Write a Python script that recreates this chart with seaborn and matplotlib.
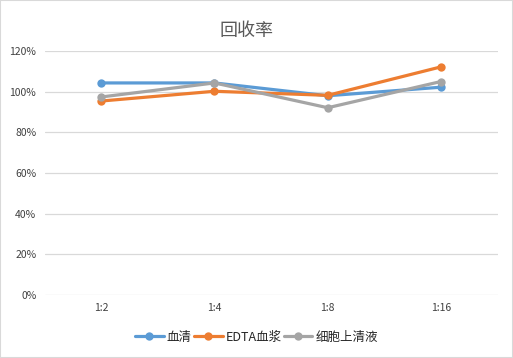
import pandas as pd
import matplotlib
matplotlib.use("Agg")
import matplotlib.pyplot as plt
from matplotlib.patches import Rectangle
from matplotlib.ticker import PercentFormatter
import seaborn as sns

dilutions = ["1:2", "1:4", "1:8", "1:16"]
serum = [1.043, 1.043, 0.98, 1.022]
edta_plasma = [0.954, 1.002, 0.982, 1.122]
supernatant = [0.974, 1.043, 0.921, 1.05]
series_names = ["血清", "EDTA血浆", "细胞上清液"]
colors = ["#5B9BD5", "#ED7D31", "#A5A5A5"]

df = pd.DataFrame({
    "dilution": dilutions * 3,
    "value": serum + edta_plasma + supernatant,
    "series": [s for s in series_names for _ in dilutions],
})

sns.set_style("white")
plt.rcParams["font.family"] = ["Noto Sans CJK SC", "DejaVu Sans"]

fig = plt.figure(figsize=(5.13, 3.58), dpi=100)
ax = fig.add_axes([0.087, 0.176, 0.883, 0.6815])

sns.lineplot(data=df, x="dilution", y="value", hue="series", hue_order=series_names,
             palette=colors, marker="o", markersize=6, markeredgewidth=0,
             linewidth=2.3, sort=False, ax=ax)

ax.set_xlim(-0.5, 3.5)
ax.set_ylim(0, 1.2)
ax.set_yticks([0, 0.2, 0.4, 0.6, 0.8, 1.0, 1.2])
ax.yaxis.set_major_formatter(PercentFormatter(1.0, decimals=0))
ax.grid(axis="y", color="#D9D9D9", linewidth=0.9)
ax.set_axisbelow(True)
for s in ax.spines.values():
    s.set_visible(False)
ax.tick_params(axis="both", length=0, labelsize=7.5, labelcolor="#404040", pad=6)
ax.set_xlabel("")
ax.set_ylabel("")

fig.text(0.481, 0.913, "回收率", ha="center", va="center", fontsize=13, color="#595959")

ax.legend_.remove()
handles, labels = ax.get_legend_handles_labels()
fig.legend(handles, labels, loc="center", bbox_to_anchor=(0.5, 0.058), ncol=3,
           frameon=False, fontsize=9, handlelength=2.3, columnspacing=0.15,
           handletextpad=0.25)

fig.patches.append(Rectangle((0, 0), 1, 1, transform=fig.transFigure, fill=False,
                             edgecolor="#D9D9D9", linewidth=1.5))

fig.savefig("out.png", dpi=100)
